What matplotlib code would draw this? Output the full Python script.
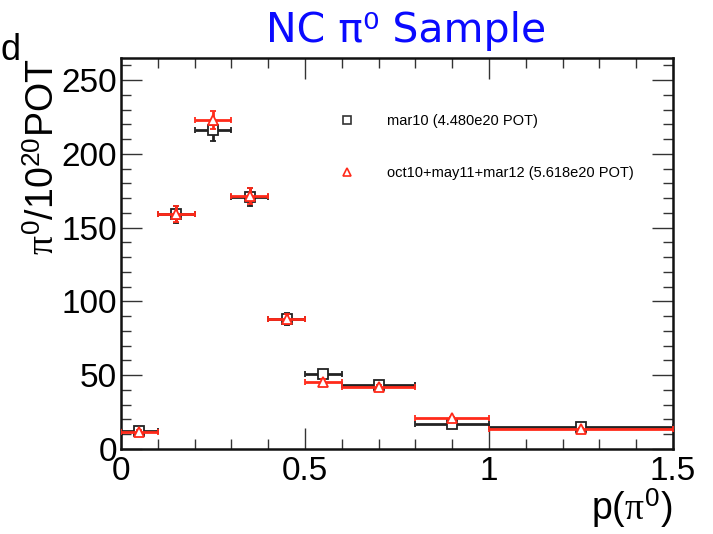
import numpy as np
import matplotlib
matplotlib.use("Agg")
import matplotlib.pyplot as plt
from matplotlib.lines import Line2D
from matplotlib.ticker import MultipleLocator

# ---- data ----
bin_edges = [0.0, 0.1, 0.2, 0.3, 0.4, 0.5, 0.6, 0.8, 1.0, 1.5]
mar10_vals = [12.0, 159.0, 216.0, 171.0, 88.0, 50.5, 43.5, 17.0, 15.0]
mar10_errs = [1.8, 6.0, 7.0, 6.0, 4.0, 2.5, 1.5, 1.0, 0.7]
comb_vals = [11.5, 159.5, 223.0, 171.5, 88.0, 45.5, 42.0, 21.0, 13.6]
comb_errs = [1.5, 5.5, 6.0, 5.5, 3.5, 2.0, 1.3, 0.9, 0.6]
label_mar10 = "mar10 (4.480e20 POT)"
label_comb = "oct10+may11+mar12 (5.618e20 POT)"
x_ticks = [0, 0.5, 1, 1.5]
x_ticklabels = ["0", "0.5", "1", "1.5"]
y_ticks = [0, 50, 100, 150, 200, 250]

edges = np.array(bin_edges)
centers = 0.5 * (edges[:-1] + edges[1:])
halfw = 0.5 * (edges[1:] - edges[:-1])

plt.rcParams['font.family'] = ['Liberation Sans', 'DejaVu Sans']
plt.rcParams['mathtext.fontset'] = 'custom'
plt.rcParams['mathtext.rm'] = 'Liberation Sans'
plt.rcParams['mathtext.it'] = 'Liberation Serif'

W, H = 713, 534
fig = plt.figure(figsize=(W / 100, H / 100), dpi=100)
ax = fig.add_axes([121 / W, 1 - 449 / H, (673 - 121) / W, (449 - 58) / H])

ax.errorbar(centers, mar10_vals, xerr=halfw, yerr=mar10_errs, fmt='s',
            color='#222222', mfc='white', mec='#222222', ms=6.5, mew=1.3,
            elinewidth=2.0, capsize=2.5, capthick=2.0, zorder=3)
ax.errorbar(centers, comb_vals, xerr=halfw, yerr=comb_errs, fmt='^',
            color='#ff2a1a', mfc='white', mec='#ff2a1a', ms=6.5, mew=1.3,
            elinewidth=2.0, capsize=2.5, capthick=2.0, zorder=4)

ax.set_xlim(0, 1.5)
ax.set_ylim(0, 265)
ax.set_xticks(x_ticks)
ax.set_xticklabels(x_ticklabels)
ax.set_yticks(y_ticks)
ax.xaxis.set_minor_locator(MultipleLocator(0.1))
ax.yaxis.set_minor_locator(MultipleLocator(10))
ax.tick_params(which='both', direction='in', top=True, right=True,
               color='#333333', width=1.0)
ax.tick_params(which='major', length=15, labelsize=24)
ax.tick_params(which='minor', length=7)
ax.tick_params(axis='y', which='major', pad=3)
ax.tick_params(axis='x', which='major', pad=5)
for s in ax.spines.values():
    s.set_linewidth(1.8)
    s.set_color('#111111')

# legend
handles = [Line2D([], [], ls='none', marker='s', mfc='white', mec='#333333', ms=6, mew=1.2),
           Line2D([], [], ls='none', marker='^', mfc='white', mec='#ff2a1a', ms=6, mew=1.2)]
leg = ax.legend(handles, [label_mar10, label_comb], loc='upper left',
                bbox_to_anchor=((340 - 121) / (673 - 121), 1 - (114 - 58) / (449 - 58)),
                frameon=False, fontsize=10.5, handlelength=1.0,
                handletextpad=2.2, labelspacing=2.6, borderpad=0, borderaxespad=0)

# texts
fig.text(406 / W, 1 - 42 / H, "NC π⁰ Sample", color='#0a0aff', fontsize=29.5,
         ha='center', va='baseline', family=['DejaVu Sans'])
fig.text(44 / W, 1 - 58 / H, r"$\pi^{0}$/10$^{20}$POT", rotation=90,
         fontsize=27, ha='center', va='top')
fig.text(672 / W, 1 - 530 / H, r"p($\pi^{0}$)", fontsize=27, ha='right', va='bottom')
fig.text(0 / W, 1 - 60 / H, "d", fontsize=26, ha='left', va='baseline')

fig.savefig("out.png", dpi=100)
